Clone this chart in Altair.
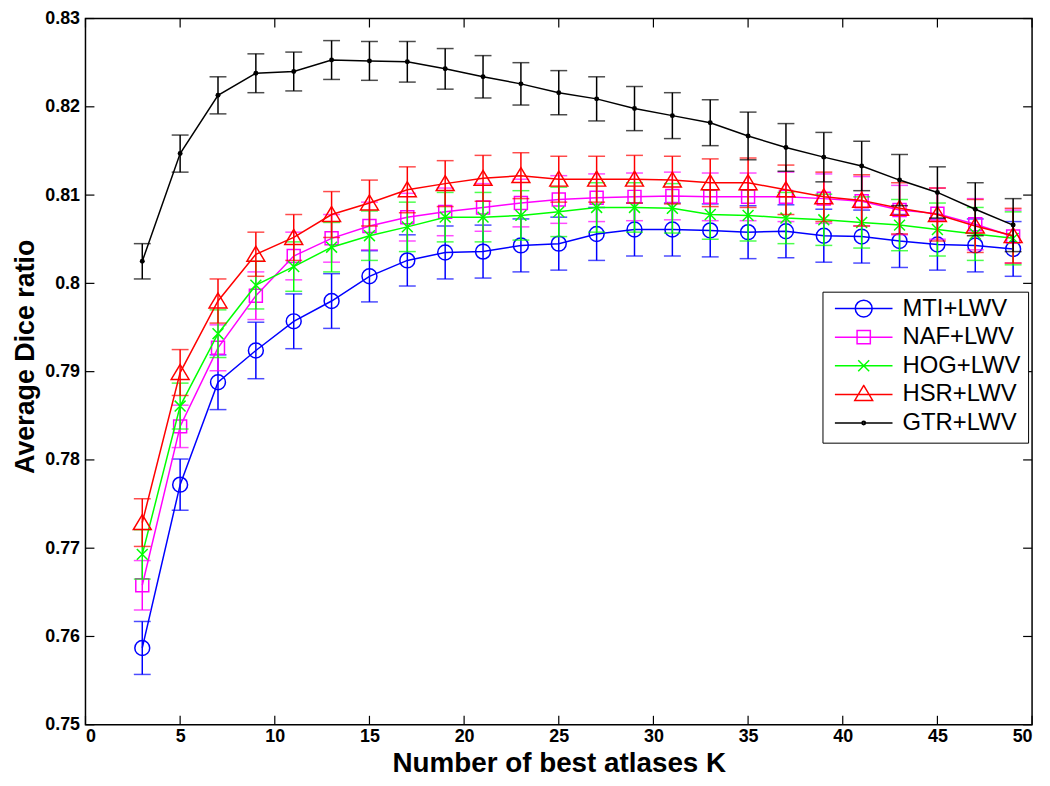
import altair as alt
import pandas as pd

K = list(range(3, 50, 2))
series = ["MTI+LWV", "NAF+LWV", "HOG+LWV", "HSR+LWV", "GTR+LWV"]
colors = ["#0000ff", "#ff00ff", "#00ff00", "#ff0000", "#000000"]

mti = [0.7587, 0.7772, 0.7888, 0.7924, 0.7957, 0.7980, 0.8008, 0.8026, 0.8035, 0.8036, 0.8043, 0.8045,
       0.8056, 0.8061, 0.8061, 0.8060, 0.8058, 0.8059, 0.8054, 0.8053, 0.8048, 0.8044, 0.8043, 0.8039]
mti_err = [0.0030, 0.0029, 0.0031, 0.0032, 0.0031, 0.0031, 0.0029, 0.0029, 0.0030, 0.0030, 0.0030, 0.0030,
           0.0030, 0.0030, 0.0030, 0.0030, 0.0030, 0.0030, 0.0030, 0.0030, 0.0030, 0.0029, 0.0030, 0.0031]
naf = [0.7658, 0.7838, 0.7927, 0.7986, 0.8031, 0.8051, 0.8065, 0.8075, 0.8081, 0.8086, 0.8091, 0.8095,
       0.8097, 0.8098, 0.8099, 0.8098, 0.8098, 0.8098, 0.8096, 0.8093, 0.8083, 0.8079, 0.8067, 0.8053]
naf_err = [0.0028, 0.0024, 0.0026, 0.0027, 0.0027, 0.0027, 0.0027, 0.0027, 0.0027, 0.0027, 0.0027, 0.0027,
           0.0027, 0.0027, 0.0027, 0.0027, 0.0027, 0.0028, 0.0028, 0.0028, 0.0028, 0.0029, 0.0029, 0.0030]
hog = [0.7693, 0.7861, 0.7943, 0.7998, 0.8019, 0.8041, 0.8054, 0.8064, 0.8075, 0.8075, 0.8077, 0.8081,
       0.8086, 0.8086, 0.8085, 0.8078, 0.8077, 0.8074, 0.8072, 0.8069, 0.8066, 0.8061, 0.8056, 0.8051]
hog_err = [0.0028, 0.0026, 0.0027, 0.0027, 0.0028, 0.0028, 0.0028, 0.0028, 0.0028, 0.0028, 0.0028, 0.0028,
           0.0028, 0.0028, 0.0028, 0.0028, 0.0029, 0.0029, 0.0029, 0.0029, 0.0029, 0.0030, 0.0030, 0.0030]
hsr = [0.7729, 0.7899, 0.7980, 0.8033, 0.8052, 0.8078, 0.8091, 0.8106, 0.8113, 0.8119, 0.8122, 0.8118,
       0.8118, 0.8118, 0.8117, 0.8114, 0.8114, 0.8106, 0.8098, 0.8094, 0.8085, 0.8078, 0.8065, 0.8054]
hsr_err = [0.0027, 0.0026, 0.0025, 0.0025, 0.0026, 0.0026, 0.0026, 0.0026, 0.0026, 0.0026, 0.0026, 0.0026,
           0.0026, 0.0027, 0.0027, 0.0027, 0.0028, 0.0028, 0.0028, 0.0029, 0.0029, 0.0030, 0.0030, 0.0031]
gtr = [0.8025, 0.8147, 0.8213, 0.8238, 0.8240, 0.8253, 0.8252, 0.8251, 0.8243, 0.8234, 0.8226, 0.8216,
       0.8209, 0.8198, 0.8190, 0.8182, 0.8167, 0.8154, 0.8143, 0.8133, 0.8117, 0.8103, 0.8084, 0.8066]
gtr_err = [0.0020, 0.0021, 0.0021, 0.0022, 0.0022, 0.0022, 0.0022, 0.0023, 0.0023, 0.0024, 0.0024, 0.0025,
           0.0025, 0.0025, 0.0026, 0.0026, 0.0027, 0.0027, 0.0028, 0.0028, 0.0029, 0.0029, 0.0030, 0.0030]

x_ticks = [0, 5, 10, 15, 20, 25, 30, 35, 40, 45, 50]
y_ticks = [0.75, 0.76, 0.77, 0.78, 0.79, 0.80, 0.81, 0.82, 0.83]

values = [mti, naf, hog, hsr, gtr]
errors = [mti_err, naf_err, hog_err, hsr_err, gtr_err]

rows = []
for s, vals, errs in zip(series, values, errors):
    for k, v, e in zip(K, vals, errs):
        rows.append({"series": s, "K": k, "value": v, "lo": v - e, "hi": v + e})
df = pd.DataFrame(rows)

W, H = 953, 711
FONT = "Liberation Sans"

xs = alt.Scale(domain=[0, 50], nice=False, zero=False)
ys = alt.Scale(domain=[0.75, 0.83], nice=False, zero=False)
xax = alt.Axis(values=x_ticks, format="d", title="Number of best atlases K", labelPadding=3,
               titleBaseline="alphabetic", titleY=47, titleFontSize=28)
yax = alt.Axis(values=y_ticks, format="~g", title="Average Dice ratio", labelPadding=6, titlePadding=5,
               titleY=340, titleFontSize=27)

marker_paths = [
    "M1,0A1,1 0 1,1 -1,0A1,1 0 1,1 1,0Z",
    "M-0.87,-0.87H0.87V0.87H-0.87Z",
    "M-0.73,-0.73L0.73,0.73M-0.73,0.73L0.73,-0.73",
    "M0,-1.07L1.2,0.93H-1.2Z",
    None,
]
legend_paths = [
    "M-1,0H1M0.293,0A0.293,0.293 0 1,1 -0.293,0A0.293,0.293 0 1,1 0.293,0",
    "M-1,0H1M-0.23,-0.23H0.23V0.23H-0.23Z",
    "M-1,0H1M-0.19,-0.19L0.19,0.19M-0.19,0.19L0.19,-0.19",
    "M-1,0H1M0,-0.31L0.31,0.21H-0.31Z",
    "M-1,0H1M0.06,0A0.06,0.06 0 1,1 -0.06,0A0.06,0.06 0 1,1 0.06,0",
]

base = alt.Chart(df)
xenc = alt.X("K:Q", scale=xs, axis=xax)
yenc = alt.Y("value:Q", scale=ys, axis=yax)
ylo = alt.Y("lo:Q", scale=ys, axis=yax)
yhi = alt.Y("hi:Q", scale=ys, axis=yax)

layers = []
for i, s in enumerate(series):
    c = colors[i]
    b = base.transform_filter(alt.datum.series == s)
    layers.append(b.mark_rule(strokeWidth=1.5, color=c).encode(x=xenc, y=ylo, y2="hi:Q"))
    layers.append(b.mark_tick(orient="horizontal", size=17, thickness=1.5, color=c).encode(x=xenc, y=ylo))
    layers.append(b.mark_tick(orient="horizontal", size=17, thickness=1.5, color=c).encode(x=xenc, y=yhi))
    layers.append(b.mark_line(strokeWidth=1.5, color=c).encode(x=xenc, y=yenc))
    if marker_paths[i] is not None:
        layers.append(b.mark_point(shape=marker_paths[i], size=225, filled=False, strokeWidth=1.5, opacity=1,
                                   color=c).encode(x=xenc, y=yenc))
    else:
        layers.append(b.mark_point(shape="circle", size=25, filled=True, opacity=1, color=c)
                      .encode(x=xenc, y=yenc))

leg = alt.Legend(title=None, orient="none", legendX=742, legendY=275, symbolSize=3364, symbolStrokeWidth=1.5,
                 symbolOpacity=1, clipHeight=20, rowPadding=4.8, labelFont=FONT, labelFontSize=24,
                 labelColor="black", labelOffset=9, padding=7, symbolOffset=4.5, fillColor="white",
                 strokeColor="black", labelLimit=300)
hidden = base.mark_point(filled=False).encode(
    x=xenc, y=yenc,
    color=alt.Color("series:N", scale=alt.Scale(domain=series, range=colors), legend=leg),
    shape=alt.Shape("series:N", scale=alt.Scale(domain=series, range=legend_paths), legend=leg),
    opacity=alt.value(0),
)
layers.append(hidden)

tick_x = pd.DataFrame({"K": x_ticks})
tick_y = pd.DataFrame({"value": y_ticks})
layers.append(alt.Chart(tick_x).mark_rule(color="black", strokeWidth=1.2).encode(x=xenc, y=alt.value(H), y2=alt.value(H - 9)))
layers.append(alt.Chart(tick_x).mark_rule(color="black", strokeWidth=1.2).encode(x=xenc, y=alt.value(0), y2=alt.value(9)))
layers.append(alt.Chart(tick_y).mark_rule(color="black", strokeWidth=1.2).encode(y=yenc, x=alt.value(0), x2=alt.value(9)))
layers.append(alt.Chart(tick_y).mark_rule(color="black", strokeWidth=1.2).encode(y=yenc, x=alt.value(W - 9), x2=alt.value(W)))

chart = alt.layer(*layers).properties(
    width=W, height=H,
    autosize=alt.AutoSizeParams(type="none"),
    padding={"left": 78, "top": 8, "right": 10, "bottom": 51},
).configure_view(stroke="black", strokeWidth=1.5).configure_axis(
    grid=False, domain=False, ticks=False,
    labelFont=FONT, labelFontSize=18, labelFontWeight="bold", labelColor="black",
    titleFont=FONT, titleFontWeight="bold", titleColor="black",
)

chart.save("out.html", embed_options={"renderer": "svg", "actions": False})
